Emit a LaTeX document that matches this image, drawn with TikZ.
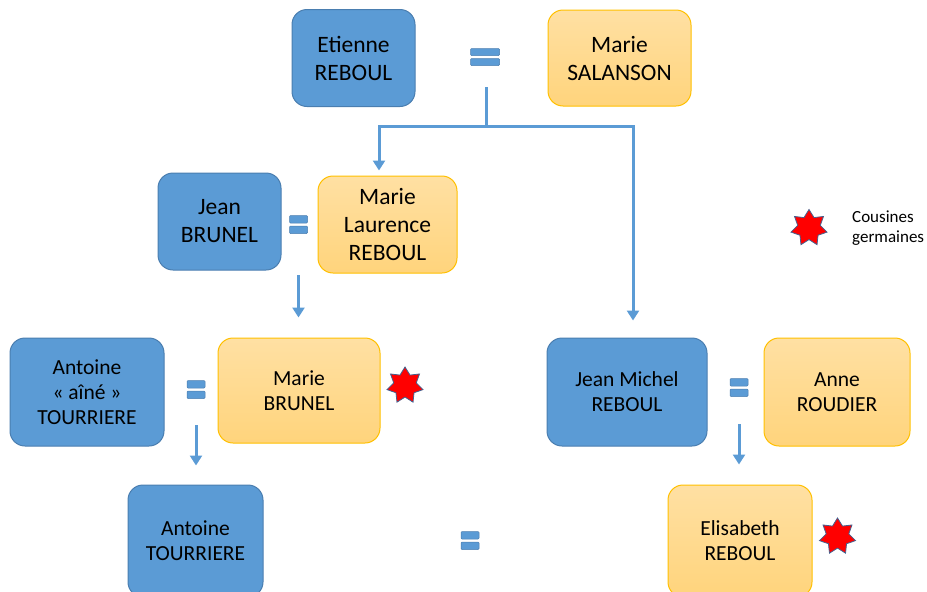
\documentclass[tikz,border=0pt]{standalone}
\usepackage{fontspec}
\setmainfont{Carlito}
\usetikzlibrary{shapes.geometric,arrows.meta,calc}
\definecolor{pblue}{HTML}{5B9BD5}
\definecolor{manedge}{HTML}{4A7EB0}
\definecolor{gold}{HTML}{FFC000}
\definecolor{goldtop}{HTML}{FFE0A3}
\definecolor{goldbot}{HTML}{FFD47C}
\definecolor{stedge}{HTML}{44618F}
\tikzset{
  person/.style={rounded corners=15pt, line width=1pt, align=center, inner sep=0pt, text=black,
    font=\fontsize{21.5}{25}\selectfont},
  man/.style={person, draw=manedge, fill=pblue},
  woman/.style={person, draw=gold, top color=goldtop, bottom color=goldbot},
  big/.style={font=\fontsize{23.5}{28}\selectfont},
  eqsign/.style={inner sep=0pt, path picture={
    \fill[pblue, draw=manedge, line width=0.5pt, rounded corners=1pt]
      ([shift={(0.5pt,-0.5pt)}]path picture bounding box.north west) rectangle
      ([shift={(-0.5pt,1.5pt)}]path picture bounding box.east);
    \fill[pblue, draw=manedge, line width=0.5pt, rounded corners=1pt]
      ([shift={(0.5pt,-1.5pt)}]path picture bounding box.west) rectangle
      ([shift={(-0.5pt,0.5pt)}]path picture bounding box.south east);}},
  conn/.style={draw=pblue, line width=3pt},
  arr/.style={-{Triangle[width=12pt,length=10pt]}},
  redstar/.style={star, star points=7, star point ratio=1.6, fill=red, draw=stedge,
    line width=0.8pt, minimum size=37pt, inner sep=0pt},
}
\begin{document}
\begin{tikzpicture}[x=1pt,y=-1pt]
\path[use as bounding box, clip] (0,0) rectangle (927,592);
% generation 1
\node[man, big, minimum width=123pt, minimum height=97pt] (ER) at (353.5,58) {Etienne\\REBOUL};
\node[woman, big, minimum width=143pt, minimum height=96pt] (MS) at (619.5,58) {Marie\\SALANSON};
\node[eqsign, minimum width=30pt, minimum height=18pt] (eq0) at (485,57) {};
% generation 2
\node[man, big, minimum width=123pt, minimum height=97pt] (JB) at (219.5,221.5) {Jean\\BRUNEL};
\node[woman, big, minimum width=139pt, minimum height=97pt] (ML) at (387.5,224.5) {Marie\\Laurence\\REBOUL};
\node[eqsign, minimum width=19pt, minimum height=19pt] (eqJ) at (298.5,224.5) {};
% generation 3
\node[man, minimum width=154pt, minimum height=108pt] (AA) at (87,392) {Antoine\\« aîné »\\TOURRIERE};
\node[woman, minimum width=162pt, minimum height=105pt] (MB) at (299,390.5) {Marie\\BRUNEL};
\node[eqsign, minimum width=19pt, minimum height=19pt] (eqA) at (196,389.5) {};
\node[man, minimum width=160pt, minimum height=108pt] (JM) at (627,392) {Jean Michel\\REBOUL};
\node[woman, minimum width=146pt, minimum height=108pt] (AR) at (837,392) {Anne\\ROUDIER};
\node[eqsign, minimum width=19pt, minimum height=19pt] (eqM) at (739,387.5) {};
% generation 4
\node[man, minimum width=135pt, minimum height=112pt] (AT) at (195.5,541) {Antoine\\TOURRIERE};
\node[woman, minimum width=144pt, minimum height=112pt] (EL) at (740,541) {Elisabeth\\REBOUL};
\node[eqsign, minimum width=19pt, minimum height=19pt] (eqB) at (470,540.5) {};
% stars and legend
\node[redstar] (st1) at (405,385.5) {};
\node[redstar] (st2) at (837.5,536.5) {};
\node[redstar] (st3) at (809,228) {};
\node[anchor=west, align=left, inner sep=0pt, font=\fontsize{17}{19.5}\selectfont] (leg) at (852,228) {Cousines\\germaines};
% connectors
\coordinate (stem) at ($(eq0.south)+(1,21)$);
\coordinate (branch) at ($(eq0.south)+(1,60)$);
\coordinate (tML) at ($(ML.north)+(-8.5,-5)$);
\coordinate (tJM) at ($(JM.north)+(6,-17)$);
\draw[conn] (stem) -- (branch);
\draw[conn, {Triangle[width=12pt,length=10pt]}-{Triangle[width=12pt,length=10pt]}] (tML) |- (branch) -| (tJM);
\draw[conn, arr, shorten <=41pt, shorten >=20pt] (eqJ.south) -- (eqJ.south |- MB.north);
\draw[conn, arr, shorten <=26pt, shorten >=19pt] (eqA.south) -- (eqA.south |- AT.north);
\draw[conn, arr, shorten <=27pt, shorten >=20pt] (eqM.south) -- (eqM.south |- EL.north);
\end{tikzpicture}
\end{document}
